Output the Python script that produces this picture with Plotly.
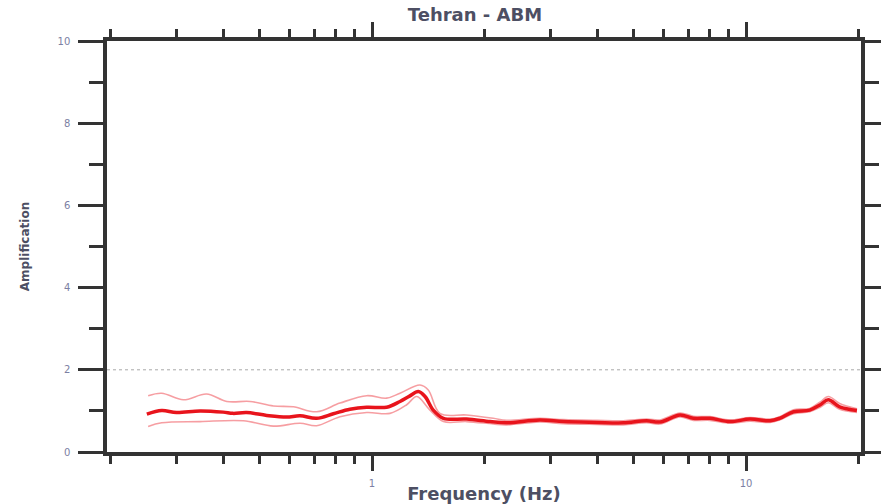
import plotly.graph_objects as go
import math

# ---- data ----
freq_mean = [0.25, 0.274, 0.30, 0.347, 0.40, 0.425, 0.462, 0.523, 0.591, 0.642, 0.711,
             0.788, 0.873, 0.968, 1.094, 1.188, 1.26, 1.33, 1.386, 1.458, 1.552, 1.79,
             2.07, 2.29, 2.81, 3.25, 3.99, 4.70, 5.42, 5.89, 6.66, 7.23, 8.01, 9.06,
             10.25, 11.6, 12.3, 13.4, 14.8, 15.8, 16.6, 17.8, 19.8]
amp_mean = [0.92, 1.01, 0.96, 1.00, 0.97, 0.94, 0.96, 0.89, 0.85, 0.88, 0.82,
            0.93, 1.04, 1.09, 1.09, 1.23, 1.36, 1.47, 1.35, 1.02, 0.82, 0.80,
            0.74, 0.71, 0.78, 0.74, 0.72, 0.71, 0.76, 0.73, 0.90, 0.82, 0.82, 0.74,
            0.80, 0.76, 0.82, 0.98, 1.02, 1.15, 1.27, 1.10, 1.01]

freq_upper = [0.252, 0.274, 0.313, 0.361, 0.409, 0.472, 0.545, 0.616, 0.711, 0.821,
              0.968, 1.094, 1.188, 1.344, 1.414, 1.519, 1.79, 2.11, 2.29, 2.81, 3.25,
              3.99, 4.70, 5.42, 5.89, 6.66, 7.23, 8.01, 9.06, 10.25, 11.6, 12.3, 13.4,
              14.8, 15.8, 16.6, 17.8, 19.8]
amp_upper = [1.37, 1.43, 1.27, 1.41, 1.23, 1.23, 1.12, 1.10, 0.98, 1.19,
             1.37, 1.31, 1.43, 1.63, 1.51, 0.94, 0.90, 0.82, 0.77, 0.82, 0.79,
             0.77, 0.76, 0.80, 0.78, 0.95, 0.87, 0.86, 0.78, 0.84, 0.80, 0.86, 1.03,
             1.06, 1.22, 1.35, 1.18, 1.05]

freq_lower = [0.252, 0.274, 0.347, 0.453, 0.545, 0.642, 0.711, 0.821, 0.968, 1.117,
              1.238, 1.317, 1.429, 1.552, 1.79, 2.11, 2.29, 2.81, 3.25, 3.99, 4.70,
              5.42, 5.89, 6.66, 7.23, 8.01, 9.06, 10.25, 11.6, 12.3, 13.4, 14.8,
              15.8, 16.6, 17.8, 19.8]
amp_lower = [0.62, 0.71, 0.74, 0.76, 0.63, 0.70, 0.64, 0.86, 0.96, 0.94,
             1.15, 1.35, 1.02, 0.74, 0.74, 0.68, 0.66, 0.73, 0.69, 0.67, 0.66,
             0.71, 0.68, 0.85, 0.77, 0.77, 0.70, 0.75, 0.72, 0.78, 0.93, 0.98,
             1.09, 1.20, 1.04, 0.96]

threshold = 2
x_major = [1, 10]
x_minor = [0.2, 0.3, 0.4, 0.5, 0.6, 0.7, 0.8, 0.9, 2, 3, 4, 5, 6, 7, 8, 9, 20]
y_major = [0, 2, 4, 6, 8, 10]
y_minor = [1, 3, 5, 7, 9]
title_text = "Tehran - ABM"
x_title = "Frequency (Hz)"
y_title = "Amplification"

AXIS = "#333333"
LABEL = "#4d4f63"
TICKLBL = "#7c7fa3"
RED = "#e8141c"
RED_THIN = "rgba(236,40,48,0.45)"

fig = go.Figure()
fig.add_trace(go.Scatter(x=freq_upper, y=amp_upper, mode="lines", line=dict(color=RED_THIN, width=1.6, shape="spline"), name="mean + std"))
fig.add_trace(go.Scatter(x=freq_lower, y=amp_lower, mode="lines", line=dict(color=RED_THIN, width=1.6, shape="spline"), name="mean - std"))
fig.add_trace(go.Scatter(x=freq_mean, y=amp_mean, mode="lines", line=dict(color=RED, width=3.5, shape="spline"), name="mean"))

fig.add_shape(type="line", xref="paper", x0=0, x1=1, yref="y", y0=threshold, y1=threshold,
              line=dict(color="#a8a8a8", width=1, dash="dot"), layer="below")

fig.update_layout(
    width=881, height=504,
    margin=dict(l=107, r=20, t=41, b=52),
    paper_bgcolor="white", plot_bgcolor="white",
    showlegend=False,
    font=dict(family="DejaVu Sans, Arial, sans-serif", color=LABEL),
    title=dict(text=title_text, x=0.488, xref="paper", xanchor="center",
               y=1 - 15 / 504, yref="container", yanchor="middle",
               font=dict(size=18, color=LABEL, family="DejaVu Sans", weight="bold")),
)

fig.update_xaxes(
    type="log", range=[-0.7086, 1.3075],
    showline=True, linecolor=AXIS, linewidth=3.5, mirror="ticks",
    showgrid=False, zeroline=False,
    tickmode="array", tickvals=x_major, ticktext=[str(v) for v in x_major],
    ticks="outside", ticklen=15, tickwidth=3, tickcolor=AXIS,
    tickfont=dict(size=10, color=TICKLBL, family="DejaVu Sans"),
    ticklabelstandoff=4,
    minor=dict(tickmode="array", tickvals=x_minor, ticks="outside", ticklen=8,
               tickwidth=3, tickcolor=AXIS, showgrid=False),
    title=dict(text=x_title, standoff=2,
               font=dict(size=18, color=LABEL, family="DejaVu Sans", weight="bold")),
    automargin=False,
)
fig.update_yaxes(
    range=[0, 10],
    showline=True, linecolor=AXIS, linewidth=3.5, mirror="ticks",
    showgrid=False, zeroline=False,
    tickmode="array", tickvals=y_major,
    ticks="outside", ticklen=25, tickwidth=3, tickcolor=AXIS,
    tickfont=dict(size=10, color=TICKLBL, family="DejaVu Sans"),
    ticklabelstandoff=6,
    minor=dict(tickmode="array", tickvals=y_minor, ticks="outside", ticklen=14,
               tickwidth=3, tickcolor=AXIS, showgrid=False),
    title=dict(text=y_title, standoff=26,
               font=dict(size=12, color=LABEL, family="DejaVu Sans", weight="bold")),
    automargin=False,
)

fig.write_html("out.html")
